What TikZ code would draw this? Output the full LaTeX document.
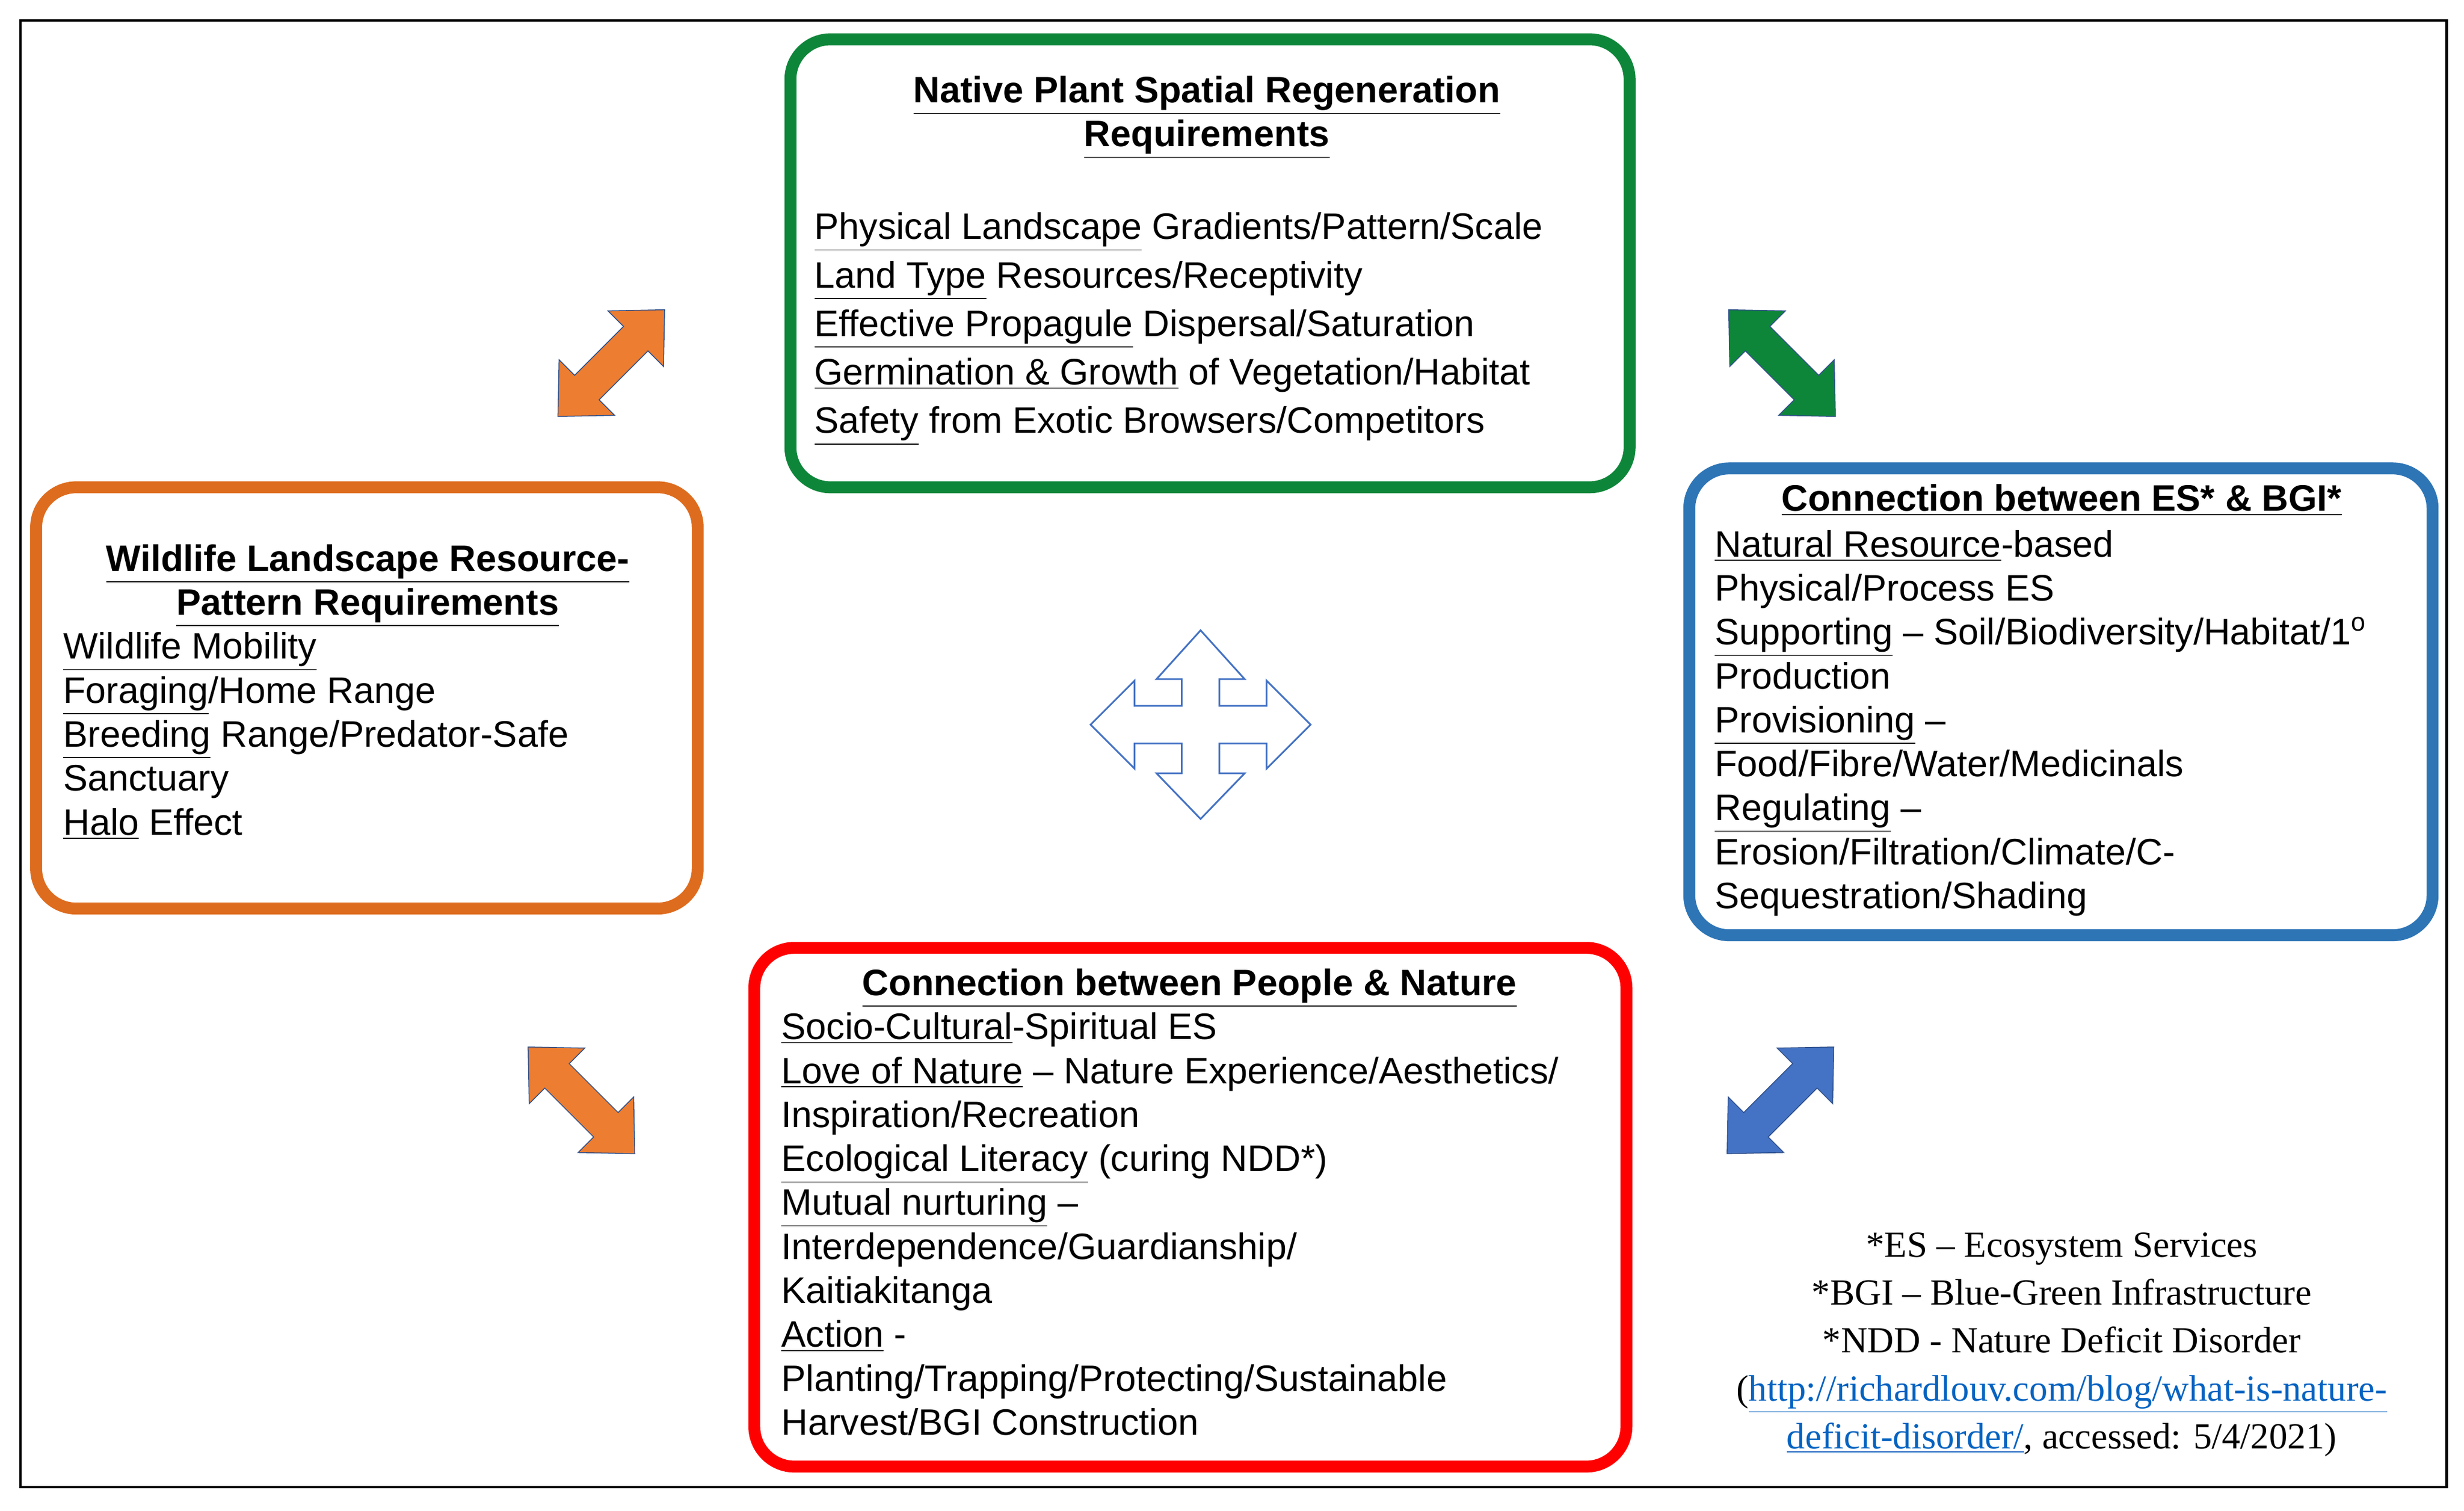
\documentclass[tikz,border=0pt]{standalone}
\usepackage{fontspec}
\setmainfont{Liberation Sans}
\newfontfamily\serifnote{Liberation Serif}[Ligatures=TeX]
\usetikzlibrary{calc}

\definecolor{boxgreen}{RGB}{14,134,58}
\definecolor{boxorange}{RGB}{222,108,30}
\definecolor{boxblue}{RGB}{46,117,182}
\definecolor{arrorange}{RGB}{237,125,49}
\definecolor{arrblue}{RGB}{68,114,196}
\definecolor{linkblue}{RGB}{5,99,193}

\tikzset{
  panel/.style={draw=#1, line width=5.5pt, rounded corners=0.65cm},
  body/.style={anchor=north west, align=left, inner sep=0pt,
    font=\fontsize{17}{20.3}\selectfont},
  head/.style={anchor=north, align=center, inner sep=0pt,
    font=\fontsize{17}{20.3}\selectfont\bfseries},
  fatarrow/.style={fill=#1, draw=arrblue!70!black, line width=0.4pt},
}
\newcommand{\ul}[1]{\underline{#1}}
% double headed block arrow, centred at #1, turned by #2
\newcommand{\dblarrow}[3]{%
  \fill[fatarrow=#3, shift={#1}, rotate=#2]
    (-48,0) -- (-22,-25) -- (-22,-11) -- (22,-11) -- (22,-25) -- (48,0)
    -- (22,25) -- (22,11) -- (-22,11) -- (-22,25) -- cycle;}

\begin{document}
\begin{tikzpicture}[x=0.02551cm, y=-0.02551cm]
      \useasboundingbox (0,0) rectangle (1568,961);
      % frame
      \draw[line width=1.2pt] (13,13) rectangle (1557,946);
      % panels
      \draw[panel=boxgreen] (503,25) rectangle (1037,310);
      \draw[panel=boxorange] (23,310) rectangle (444,578);
      \draw[panel=boxblue] (1075,298) rectangle (1548,595);
      \draw[panel=red] (480,603) rectangle (1035,933);
      % green panel text
      \node[head] (planthead) at (768,48) {\ul{Native Plant Spatial Regeneration}\\\ul{Requirements}};
      \node[body, font=\fontsize{17}{22.4}\selectfont] (planbody) at (518,135) {%
        \ul{Physical Landscape} Gradients/Pattern/Scale\\
        \ul{Land Type} Resources/Receptivity\\
        \ul{Effective Propagule} Dispersal/Saturation\\
        \ul{Germination \& Growth} of Vegetation/Habitat\\
        \ul{Safety} from Exotic Browsers/Competitors};
      % orange panel text
      \node[head] (wildhead) at (234,346) {\ul{Wildlife Landscape Resource-}\\\ul{Pattern Requirements}};
      \node[body] (wildbody) at (40,402) {%
        \ul{Wildlife Mobility}\\
        \ul{Foraging}/Home Range\\
        \ul{Breeding} Range/Predator-Safe\\
        Sanctuary\\
        \ul{Halo} Effect};
      % blue panel text
      \node[head] (eshead) at (1312,308) {\ul{Connection between ES* \& BGI*}};
      \node[body] (esbody) at (1091,337) {%
        \ul{Natural Resource}-based\\
        Physical/Process ES\\
        \ul{Supporting} -- Soil/Biodiversity/Habitat/1\textsuperscript{o}\\
        Production\\
        \ul{Provisioning} --\\
        Food/Fibre/Water/Medicinals\\
        \ul{Regulating} --\\
        Erosion/Filtration/Climate/C-\\
        Sequestration/Shading};
      % red panel text
      \node[head] (peoplehead) at (757,616) {\ul{Connection between People \& Nature}};
      \node[body] (peoplebody) at (497,644) {%
        \ul{Socio-Cultural}-Spiritual ES\\
        \ul{Love of Nature} -- Nature Experience/Aesthetics/\\
        Inspiration/Recreation\\
        \ul{Ecological Literacy} (curing NDD*)\\
        \ul{Mutual nurturing} --\\
        Interdependence/Guardianship/\\
        Kaitiakitanga\\
        \ul{Action} -\\
        Planting/Trapping/Protecting/Sustainable\\
        Harvest/BGI Construction};
      % footnote
      \node[anchor=north, align=center, inner sep=0pt,
        font=\serifnote\fontsize{17}{22.1}\selectfont] (notes) at (1312,784) {%
        *ES \textendash{} Ecosystem Services\\
        *BGI \textendash{} Blue-Green Infrastructure\\
        *NDD - Nature Deficit Disorder\\
        (\textcolor{linkblue}{\ul{http://richardlouv.com/blog/what-is-nature-}}\\
        \textcolor{linkblue}{\ul{deficit-disorder/}}, accessed: 5/4/2021)};
      % block arrows
      \dblarrow{(389,231)}{45}{arrorange}
      \dblarrow{(1134,231)}{-45}{boxgreen}
      \dblarrow{(370,700)}{-45}{arrorange}
      \dblarrow{(1133,700)}{45}{arrblue}
      % four way arrow in the middle
      \draw[arrblue, line width=0.8pt, fill=white] (764,401) -- (792,432) -- (776,432) -- (776,449)
        -- (806,449) -- (806,433) -- (834,461) -- (806,489) -- (806,473) -- (776,473)
        -- (776,492) -- (792,492) -- (764,521) -- (736,492) -- (752,492) -- (752,473)
        -- (722,473) -- (722,489) -- (694,461) -- (722,433) -- (722,449) -- (752,449)
        -- (752,432) -- (736,432) -- cycle;
    \end{tikzpicture}
\end{document}
